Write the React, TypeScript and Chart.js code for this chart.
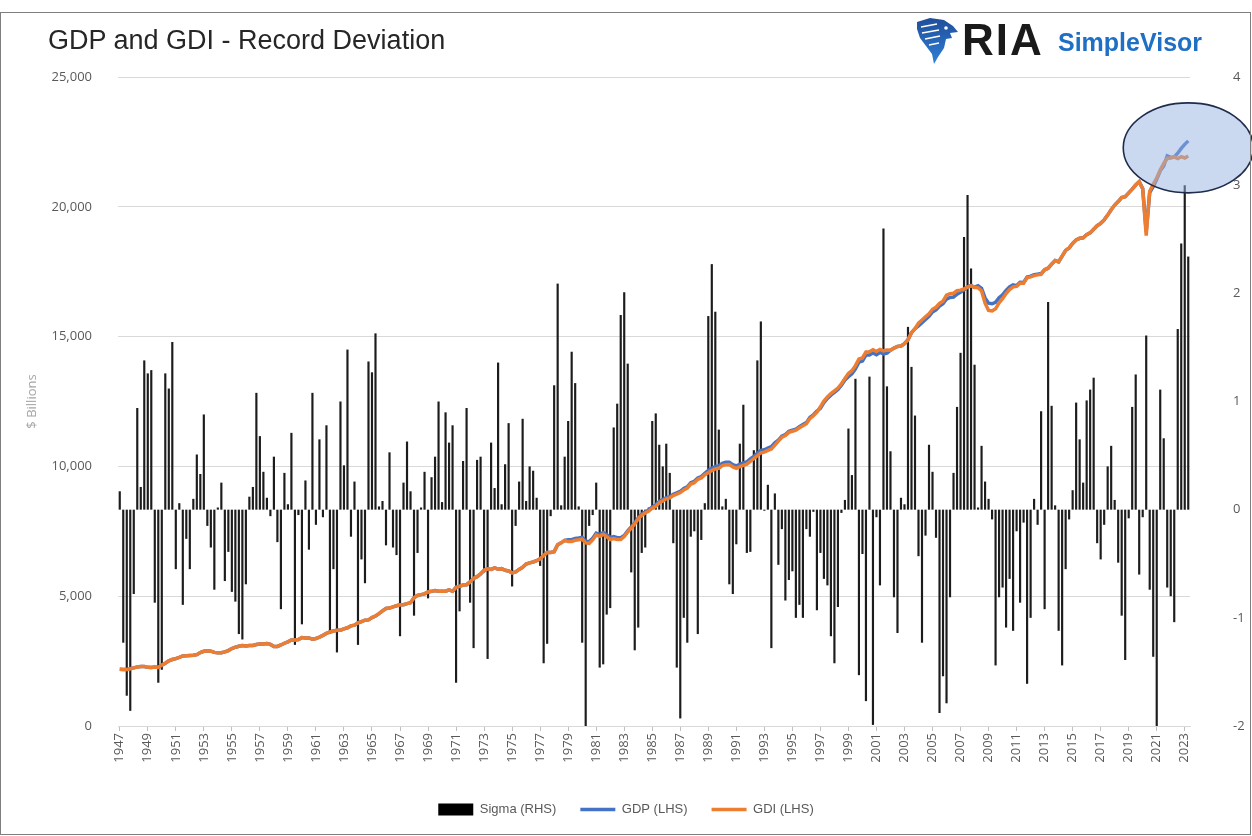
import React, { useEffect, useRef } from "react";
import { Chart, registerables } from "chart.js";

Chart.register(...registerables);

// ---------- DATA ----------
const startYear = 1947;

const tickLabels = [
  "1947","1949","1951","1953","1955","1957","1959","1961","1963","1965",
  "1967","1969","1971","1973","1975","1977","1979","1981","1983","1985",
  "1987","1989","1991","1993","1995","1997","1999","2001","2003","2005",
  "2007","2009","2011","2013","2015","2017","2019","2021","2023",
];

// Sigma (RHS), quarterly 1947Q1 .. 2023Q2
const sigma = [
  0.17, -1.23, -1.72, -1.86,
  -0.78, 0.94, 0.21, 1.38,
  1.26, 1.29, -0.86, -1.6,
  -1.48, 1.26, 1.12, 1.55,
  -0.55, 0.06, -0.88, -0.27,
  -0.55, 0.1, 0.51, 0.33,
  0.88, -0.15, -0.35, -0.74,
  0.02, 0.25, -0.66, -0.39,
  -0.76, -0.85, -1.15, -1.2,
  -0.69, 0.12, 0.21, 1.08,
  0.68, 0.35, 0.11, -0.06,
  0.49, -0.3, -0.92, 0.34,
  0.05, 0.71, -1.25, -0.05,
  -1.06, 0.27, -0.37, 1.08,
  -0.14, 0.65, -0.07, 0.78,
  -1.15, -0.55, -1.32, 1.0,
  0.41, 1.48, -0.25, 0.26,
  -1.25, -0.46, -0.68, 1.37,
  1.27, 1.63, 0.03, 0.08,
  -0.33, 0.53, -0.35, -0.42,
  -1.17, 0.25, 0.63, 0.17,
  -0.98, -0.4, 0.02, 0.35,
  -0.82, 0.3, 0.49, 1.0,
  0.07, 0.9, 0.62, 0.78,
  -1.6, -0.94, 0.45, 0.94,
  -0.86, -1.28, 0.46, 0.49,
  -0.58, -1.38, 0.62, 0.2,
  1.36, 0.05, 0.42, 0.8,
  -0.71, -0.15, 0.26, 0.84,
  0.08, 0.4, 0.36, 0.11,
  -0.52, -1.42, -1.24, -0.06,
  1.15, 2.09, 0.04, 0.49,
  0.82, 1.46, 1.17, 0.03,
  -1.23, -2.0, -0.15, -0.05,
  0.25, -1.46, -1.43, -0.97,
  -0.91, 0.76, 0.98, 1.8,
  2.01, 1.35, -0.58, -1.3,
  -1.09, -0.4, -0.35, 0.02,
  0.82, 0.89, 0.6, 0.4,
  0.61, 0.34, -0.31, -1.46,
  -1.93, -1.0, -1.23, -0.25,
  -0.2, -1.15, -0.28, 0.06,
  1.79, 2.27, 1.83, 0.74,
  0.03, 0.1, -0.69, -0.78,
  -0.32, 0.61, 0.97, -0.4,
  -0.39, 0.55, 1.38, 1.74,
  -0.01, 0.23, -1.28, 0.15,
  -0.51, -0.18, -0.84, -0.65,
  -0.57, -1.0, -0.88, -1.0,
  -0.18, -0.25, -0.02, -0.93,
  -0.4, -0.64, -0.7, -1.17,
  -1.42, -0.9, -0.03, 0.09,
  0.75, 0.32, 1.21, -1.53,
  -0.41, -1.77, 1.23, -1.99,
  -0.07, -0.7, 2.6, 1.14,
  0.54, -0.81, -1.14, 0.11,
  0.05, 1.69, 1.32, 0.87,
  -0.43, -1.23, -0.24, 0.6,
  0.35, -0.26, -1.88, -1.54,
  -1.79, -0.81, 0.34, 0.95,
  1.45, 2.52, 2.91, 2.23,
  1.34, 0.02, 0.59, 0.26,
  0.1, -0.09, -1.44, -0.81,
  -0.72, -1.09, -0.64, -1.12,
  -0.2, -0.86, -0.12, -1.61,
  -1.0, 0.1, -0.14, 0.91,
  -0.92, 1.92, 0.96, 0.04,
  -1.12, -1.44, -0.55, -0.09,
  0.18, 0.99, 0.65, 0.25,
  1.01, 1.11, 1.22, -0.31,
  -0.46, -0.14, 0.4, 0.59,
  0.09, -0.49, -0.98, -1.39,
  -0.08, 0.95, 1.25, -0.6,
  -0.07, 1.61, -0.74, -1.36,
  -2.0, 1.11, 0.66, -0.72,
  -0.8, -1.04, 1.67, 2.46,
  3.0, 2.34,
];

// GDP (LHS), $ billions
const gdp = [
  2183, 2177, 2172, 2206,
  2240, 2277, 2290, 2292,
  2260, 2253, 2276, 2257,
  2346, 2418, 2512, 2561,
  2595, 2640, 2697, 2706,
  2720, 2725, 2747, 2832,
  2878, 2902, 2881, 2836,
  2821, 2823, 2856, 2905,
  2985, 3035, 3073, 3098,
  3085, 3104, 3103, 3138,
  3162, 3156, 3178, 3142,
  3060, 3064, 3122, 3188,
  3242, 3312, 3312, 3329,
  3405, 3388, 3393, 3346,
  3369, 3427, 3491, 3566,
  3621, 3658, 3688, 3692,
  3742, 3783, 3857, 3886,
  3973, 4019, 4074, 4087,
  4177, 4237, 4328, 4434,
  4528, 4543, 4590, 4631,
  4667, 4673, 4715, 4747,
  4939, 5030, 5061, 5089,
  5164, 5187, 5221, 5195,
  5189, 5194, 5241, 5189,
  5345, 5377, 5428, 5442,
  5551, 5681, 5753, 5856,
  5999, 6056, 6031, 6091,
  6039, 6061, 5999, 5970,
  5899, 5933, 6031, 6113,
  6241, 6282, 6318, 6367,
  6442, 6565, 6687, 6688,
  6718, 6985, 7056, 7150,
  7173, 7179, 7224, 7241,
  7265, 7121, 7105, 7236,
  7428, 7375, 7451, 7366,
  7256, 7294, 7251, 7255,
  7336, 7514, 7668, 7823,
  8021, 8160, 8246, 8319,
  8438, 8513, 8653, 8722,
  8801, 8834, 8925, 8980,
  9041, 9146, 9214, 9369,
  9423, 9551, 9607, 9731,
  9844, 9928, 9996, 10017,
  10118, 10158, 10161, 10066,
  10019, 10081, 10132, 10177,
  10286, 10390, 10501, 10615,
  10640, 10705, 10761, 10908,
  11012, 11161, 11229, 11352,
  11394, 11433, 11529, 11610,
  11686, 11881, 11990, 12128,
  12236, 12457, 12619, 12746,
  12851, 12959, 13124, 13324,
  13456, 13566, 13762, 14017,
  14057, 14287, 14294, 14374,
  14304, 14389, 14332, 14366,
  14477, 14560, 14619, 14635,
  14726, 14879, 15149, 15306,
  15415, 15538, 15662, 15781,
  15953, 16030, 16176, 16263,
  16446, 16507, 16522, 16638,
  16709, 16799, 16906, 16971,
  16902, 16959, 16857, 16489,
  16290, 16265, 16320, 16498,
  16608, 16778, 16911, 16996,
  16963, 17089, 17085, 17296,
  17329, 17381, 17407, 17427,
  17574, 17634, 17791, 17931,
  17879, 18103, 18322, 18416,
  18591, 18722, 18786, 18806,
  18922, 18997, 19138, 19272,
  19362, 19496, 19681, 19889,
  20067, 20200, 20353, 20392,
  20538, 20681, 20839, 20970,
  20694, 19056, 20548, 20771,
  21058, 21389, 21572, 21961,
  21903, 21920, 22066, 22250,
  22404, 22540,
];

// GDI (LHS), $ billions
const gdi = [
  2183, 2177, 2172, 2206,
  2240, 2277, 2290, 2292,
  2260, 2253, 2276, 2257,
  2346, 2418, 2512, 2561,
  2595, 2640, 2697, 2706,
  2720, 2725, 2747, 2832,
  2878, 2902, 2881, 2836,
  2821, 2823, 2856, 2905,
  2985, 3035, 3073, 3098,
  3085, 3104, 3103, 3138,
  3162, 3156, 3178, 3142,
  3060, 3064, 3122, 3188,
  3242, 3312, 3312, 3329,
  3405, 3388, 3393, 3346,
  3369, 3427, 3491, 3566,
  3621, 3658, 3688, 3692,
  3742, 3783, 3857, 3886,
  3973, 4019, 4074, 4087,
  4177, 4237, 4328, 4434,
  4528, 4543, 4590, 4631,
  4667, 4673, 4715, 4747,
  4939, 5030, 5061, 5089,
  5164, 5187, 5221, 5195,
  5189, 5194, 5241, 5189,
  5345, 5377, 5428, 5442,
  5551, 5681, 5753, 5856,
  5999, 6056, 6031, 6091,
  6039, 6061, 5999, 5970,
  5899, 5933, 6031, 6113,
  6241, 6282, 6318, 6367,
  6442, 6565, 6687, 6688,
  6718, 6985, 7056, 7150,
  7103, 7109, 7154, 7171,
  7195, 7051, 7035, 7166,
  7358, 7305, 7381, 7296,
  7186, 7224, 7181, 7185,
  7296, 7474, 7628, 7783,
  7981, 8120, 8206, 8279,
  8388, 8463, 8603, 8672,
  8751, 8784, 8875, 8930,
  8991, 9096, 9164, 9319,
  9373, 9501, 9557, 9681,
  9754, 9838, 9906, 9927,
  10028, 10068, 10071, 9976,
  9929, 9991, 10042, 10087,
  10196, 10300, 10411, 10525,
  10550, 10615, 10671, 10818,
  10972, 11121, 11189, 11312,
  11354, 11393, 11489, 11570,
  11646, 11841, 11950, 12088,
  12296, 12517, 12679, 12806,
  12911, 13019, 13184, 13384,
  13576, 13686, 13882, 14137,
  14177, 14407, 14414, 14494,
  14424, 14509, 14452, 14486,
  14477, 14560, 14619, 14635,
  14726, 14879, 15149, 15306,
  15515, 15638, 15762, 15881,
  16053, 16130, 16276, 16363,
  16596, 16657, 16672, 16768,
  16789, 16839, 16906, 16951,
  16902, 16880, 16757, 16289,
  16010, 15985, 16070, 16298,
  16458, 16658, 16811, 16916,
  16933, 17059, 17055, 17266,
  17299, 17351, 17377, 17397,
  17574, 17634, 17791, 17931,
  17879, 18103, 18322, 18416,
  18591, 18722, 18786, 18806,
  18922, 18997, 19138, 19272,
  19362, 19496, 19681, 19889,
  20067, 20200, 20353, 20392,
  20538, 20681, 20839, 20970,
  20694, 18890, 20600, 20870,
  21108, 21419, 21672, 21861,
  21880, 21920, 21860, 21930,
  21880, 21960,
];

// highlighted region (circled in the reference)
const highlightIndex = 305;
const highlightValue = 22270;

const categories: string[] = [];
for (let i = 0; i < sigma.length; i++) {
  categories.push(`${startYear + Math.floor(i / 4)} Q${(i % 4) + 1}`);
}

const TICK_FONT = { family: "'Open Sans', 'DejaVu Sans', sans-serif", size: 13 };
const TICK_COLOR = "#595959";

const ellipsePlugin = {
  id: "highlightEllipse",
  afterDatasetsDraw(chart: any) {
    const { ctx } = chart;
    const cx = chart.scales.x.getPixelForValue(highlightIndex);
    const cy = chart.scales.y.getPixelForValue(highlightValue);
    ctx.save();
    ctx.beginPath();
    ctx.ellipse(cx, cy, 65, 45, 0, 0, Math.PI * 2);
    ctx.fillStyle = "rgba(150,178,226,0.5)";
    ctx.fill();
    ctx.lineWidth = 1.6;
    ctx.strokeStyle = "#1f2c4c";
    ctx.stroke();
    ctx.restore();
  },
};

export default function App() {
  const canvasRef = useRef<HTMLCanvasElement | null>(null);

  useEffect(() => {
    document.body.style.margin = "0";
    const canvas = canvasRef.current;
    if (!canvas) return;
    const chart = new Chart(canvas, {
      type: "bar",
      data: {
        labels: categories,
        datasets: [
          {
            type: "bar",
            label: "Sigma (RHS)",
            data: sigma,
            yAxisID: "y1",
            backgroundColor: "#1c1c1c",
            borderWidth: 0,
            barPercentage: 0.62,
            categoryPercentage: 1,
            order: 3,
          } as any,
          {
            type: "line",
            label: "GDP (LHS)",
            data: gdp,
            yAxisID: "y",
            borderColor: "#4472C4",
            backgroundColor: "#4472C4",
            borderWidth: 3.5,
            pointRadius: 0,
            order: 2,
          } as any,
          {
            type: "line",
            label: "GDI (LHS)",
            data: gdi,
            yAxisID: "y",
            borderColor: "#ED7D31",
            backgroundColor: "#ED7D31",
            borderWidth: 3.5,
            pointRadius: 0,
            order: 1,
          } as any,
        ],
      },
      options: {
        responsive: false,
        animation: false,
        layout: { padding: { left: 0, right: 0, top: 77, bottom: 10 } },
        plugins: {
          tooltip: { enabled: false },
          legend: {
            position: "bottom",
            reverse: true,
            labels: {
              usePointStyle: true,
              pointStyleWidth: 35,
              boxHeight: 12,
              padding: 24,
              color: TICK_COLOR,
              font: { family: "'Liberation Sans Narrow', 'Liberation Sans', sans-serif", size: 13 },
              generateLabels: (c: any) => {
                const items = (Chart as any).defaults.plugins.legend.labels.generateLabels(c);
                return items.map((it: any) => {
                  const ds = c.data.datasets[it.datasetIndex];
                  const col = ds.borderColor && it.datasetIndex !== 0 ? ds.borderColor : "#000000";
                  return {
                    ...it,
                    pointStyle: it.datasetIndex === 0 ? "rect" : "line",
                    fillStyle: col,
                    strokeStyle: col,
                    lineWidth: it.datasetIndex === 0 ? 0 : 3.5,
                  };
                });
              },
            },
          },
        },
        scales: {
          x: {
            type: "category",
            offset: true,
            grid: {
              offset: false,
              drawOnChartArea: false,
              tickLength: 5,
              color: (c: any) => (c.index % 8 === 0 ? "#bfbfbf" : "rgba(0,0,0,0)"),
            },
            border: { display: true, color: "#d9d9d9" },
            ticks: {
              autoSkip: false,
              maxRotation: 90,
              minRotation: 90,
              padding: 2,
              color: TICK_COLOR,
              font: TICK_FONT,
              callback: (_v: any, idx: number) => (idx % 8 === 0 ? tickLabels[idx / 8] : ""),
            },
            afterFit: (s: any) => {
              s.height = 53;
            },
          },
          y: {
            position: "left",
            min: 0,
            max: 25000,
            ticks: {
              stepSize: 5000,
              padding: 26,
              color: TICK_COLOR,
              font: TICK_FONT,
              callback: (v: any) => Number(v).toLocaleString("en-US"),
            },
            grid: { color: "#d9d9d9", drawTicks: false },
            border: { display: false },
            title: {
              display: true,
              text: "$ Billions",
              color: "#a6a6a6",
              font: TICK_FONT,
              padding: { top: 24, bottom: 0 },
            },
            afterFit: (s: any) => {
              s.width = 118;
            },
          },
          y1: {
            position: "right",
            min: -2,
            max: 4,
            ticks: { stepSize: 1, padding: 35, color: TICK_COLOR, font: TICK_FONT },
            grid: { display: false, drawOnChartArea: false },
            border: { display: false },
            afterFit: (s: any) => {
              s.width = 62;
            },
          },
        },
      } as any,
      plugins: [ellipsePlugin],
    });
    return () => chart.destroy();
  }, []);

  return (
    <div
      style={{
        position: "relative",
        width: 1252,
        height: 836,
        background: "#ffffff",
        overflow: "hidden",
      }}
    >
      <canvas ref={canvasRef} width={1252} height={836} style={{ position: "absolute", left: 0, top: 0 }} />
      <div
        style={{
          position: "absolute",
          left: 0,
          top: 12,
          width: 1249,
          height: 821,
          border: "1px solid #7f7f7f",
          pointerEvents: "none",
        }}
      />
      <div
        style={{
          position: "absolute",
          left: 48,
          top: 24,
          fontFamily: "'Liberation Sans', Arial, sans-serif",
          fontSize: 27,
          color: "#262626",
          whiteSpace: "nowrap",
          lineHeight: "32px",
        }}
      >
        GDP and GDI - Record Deviation
      </div>
      <svg
        width={44}
        height={47}
        viewBox="0 0 44 47"
        style={{ position: "absolute", left: 915, top: 17 }}
      >
        <defs>
          <linearGradient id="eg" x1="0" y1="0" x2="0" y2="1">
            <stop offset="0" stopColor="#1f4e9a" />
            <stop offset="1" stopColor="#2f7fd6" />
          </linearGradient>
        </defs>
        <path
          d="M2 5 L15 1 L29 3 L38 9 L43 15 L35 16 L37 21 L31 22 L29 31 L23 40 L19 47 L17 37 L11 29 L5 21 L2 12 Z"
          fill="url(#eg)"
        />
        <path d="M6 10 L22 7 M7 16 L24 13 M10 22 L25 19 M14 28 L24 26" stroke="#ffffff" strokeWidth={1.6} />
        <circle cx={31} cy={11} r={1.8} fill="#ffffff" />
      </svg>
      <div
        style={{
          position: "absolute",
          left: 962,
          top: 15,
          fontFamily: "'Liberation Sans', Arial, sans-serif",
          fontWeight: 700,
          fontSize: 44,
          letterSpacing: 2,
          color: "#1a1a1a",
          lineHeight: "50px",
          whiteSpace: "nowrap",
        }}
      >
        RIA
      </div>
      <div
        style={{
          position: "absolute",
          left: 1058,
          top: 27,
          fontFamily: "'Liberation Sans', Arial, sans-serif",
          fontWeight: 700,
          fontSize: 25,
          color: "#1f6fc5",
          lineHeight: "30px",
          whiteSpace: "nowrap",
        }}
      >
        SimpleVisor
      </div>
    </div>
  );
}
